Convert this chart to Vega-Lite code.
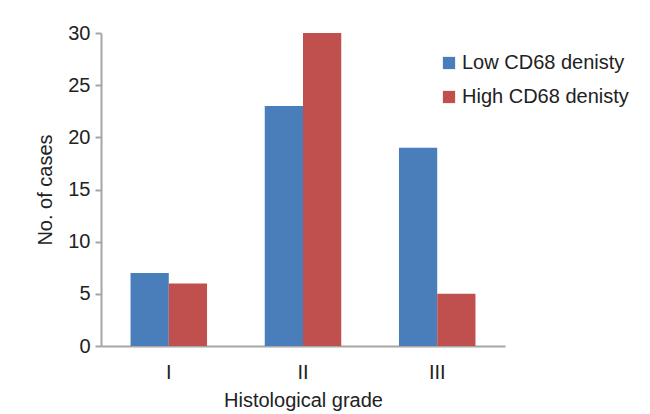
{
  "$schema": "https://vega.github.io/schema/vega-lite/v6.json",
  "width": 404,
  "height": 313,
  "autosize": "none",
  "padding": {"left": 101, "top": 33, "right": 145, "bottom": 68},
  "background": "white",
  "data": {
    "values": [
      {"grade": "I", "series": "Low CD68 denisty", "cases": 7},
      {"grade": "I", "series": "High CD68 denisty", "cases": 6},
      {"grade": "II", "series": "Low CD68 denisty", "cases": 23},
      {"grade": "II", "series": "High CD68 denisty", "cases": 30},
      {"grade": "III", "series": "Low CD68 denisty", "cases": 19},
      {"grade": "III", "series": "High CD68 denisty", "cases": 5}
    ]
  },
  "mark": {"type": "bar"},
  "encoding": {
    "x": {
      "field": "grade", "type": "nominal", "sort": ["I", "II", "III"],
      "scale": {"paddingInner": 0.43, "paddingOuter": 0.22},
      "axis": {"title": "Histological grade", "labelAngle": 0, "ticks": false, "labelPadding": 16, "titlePadding": 8}
    },
    "xOffset": {"field": "series", "type": "nominal", "sort": ["Low CD68 denisty", "High CD68 denisty"]},
    "y": {
      "field": "cases", "type": "quantitative",
      "scale": {"domain": [0, 30], "nice": false},
      "axis": {"title": "No. of cases", "values": [0, 5, 10, 15, 20, 25, 30], "grid": false, "tickSize": 6, "labelPadding": 5, "titlePadding": 12}
    },
    "color": {
      "field": "series", "type": "nominal",
      "sort": ["Low CD68 denisty", "High CD68 denisty"],
      "scale": {"range": ["#4a7ebb", "#c0504d"]},
      "legend": {"title": null, "orient": "none", "legendX": 338, "legendY": 20, "symbolType": "square", "symbolSize": 150, "symbolStrokeWidth": 0, "labelFontSize": 20, "labelLimit": 400, "labelColor": "#222", "labelFont": "Liberation Sans", "rowPadding": 14, "labelOffset": 3}
    }
  },
  "config": {
    "view": {"stroke": null},
    "font": "Liberation Sans",
    "axis": {
      "domainColor": "#a6a6a6", "domainWidth": 2, "tickColor": "#a6a6a6", "tickWidth": 2,
      "labelFontSize": 20, "labelColor": "#222", "titleFontSize": 20, "titleFontWeight": "normal", "titleColor": "#222",
      "labelFont": "Liberation Sans", "titleFont": "Liberation Sans"
    }
  }
}
